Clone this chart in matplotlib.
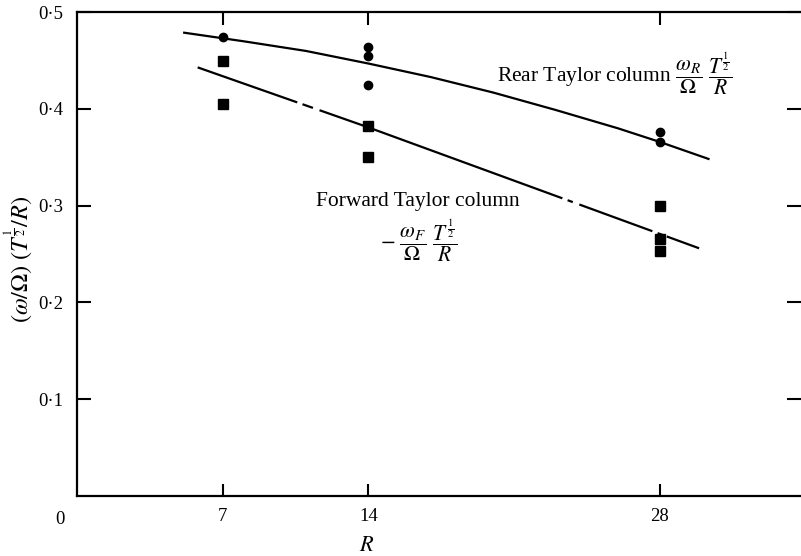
import matplotlib
matplotlib.use("Agg")
import matplotlib.pyplot as plt

plt.rcParams['font.family'] = ['Liberation Serif', 'DejaVu Serif']
plt.rcParams['mathtext.fontset'] = 'stix'
plt.rcParams['lines.scale_dashes'] = False

rear_R = [7, 14, 14, 14, 28, 28]
rear_w = [0.474, 0.464, 0.455, 0.425, 0.376, 0.366]

fwd_R = [7, 7, 14, 14, 28, 28, 28]
fwd_w = [0.450, 0.405, 0.382, 0.350, 0.300, 0.266, 0.253]

# fitted curves drawn through the data
rear_fit_R = [5.1, 8, 11, 14, 17, 20, 23, 26, 28, 30.4]
rear_fit_w = [0.479, 0.470, 0.460, 0.447, 0.433, 0.417, 0.399, 0.380, 0.366, 0.348]

fwd_fit_R = [5.8, 14, 29.9]
fwd_fit_w = [0.443, 0.381, 0.256]

x_ticks = [7, 14, 28]
x_ticklabels = ['7', '14', '28']
y_ticks = [0.1, 0.2, 0.3, 0.4, 0.5]
y_ticklabels = ['0·1', '0·2', '0·3', '0·4', '0·5']

fig = plt.figure(figsize=(8.01, 5.56), dpi=100)
ax = fig.add_axes([0.0961, 0.108, 0.904, 0.870])

ax.plot(rear_fit_R, rear_fit_w, color='black', lw=1.6, solid_capstyle='butt')
ax.plot(fwd_fit_R, fwd_fit_w, color='black', lw=1.6, dash_capstyle='butt',
        linestyle=(0, (76, 4, 8, 5, 186, 4, 4, 5, 56, 4, 4, 3, 40, 10)))

ax.plot(rear_R, rear_w, 'o', color='black', ms=6, mec='black')
ax.plot(fwd_R, fwd_w, 's', color='black', ms=7.5, mec='black')

ax.set_xlim(0, 34.8)
ax.set_ylim(0, 0.5)

ax.set_xticks(x_ticks)
ax.set_xticklabels(x_ticklabels, fontsize=13.5)
ax.set_yticks(y_ticks)
ax.set_yticklabels(y_ticklabels, fontsize=13.5)
ax.tick_params(axis='x', direction='in', length=9, width=1.5, pad=9, top=True)
ax.tick_params(axis='y', direction='in', length=10, width=1.5, pad=10, right=True)

for side in ['left', 'bottom', 'top']:
    ax.spines[side].set_linewidth(1.6)
ax.spines['right'].set_visible(False)

ax.text(-0.023, -0.048, '0', transform=ax.transAxes, ha='center', va='center', fontsize=13.5)

ax.set_xlabel(r'$R$', fontsize=16)
ax.xaxis.set_label_coords(0.40, -0.085)
ax.set_ylabel(r'$(\omega/\Omega)\ (T^{\frac{1}{2}}/R)$', fontsize=17.5)
ax.yaxis.set_label_coords(-0.058, 0.49)

ax.text(20.2, 0.437, r'Rear Taylor column $\dfrac{\omega_R}{\Omega}\ \dfrac{T^{\frac{1}{2}}}{R}$',
        ha='left', va='center', fontsize=15.5)
ax.text(16.4, 0.304, 'Forward Taylor column', ha='center', va='center', fontsize=15.5)
ax.text(16.4, 0.264, r'$-\ \dfrac{\omega_F}{\Omega}\ \dfrac{T^{\frac{1}{2}}}{R}$',
        ha='center', va='center', fontsize=15.5)

fig.savefig('out.png', dpi=100)
